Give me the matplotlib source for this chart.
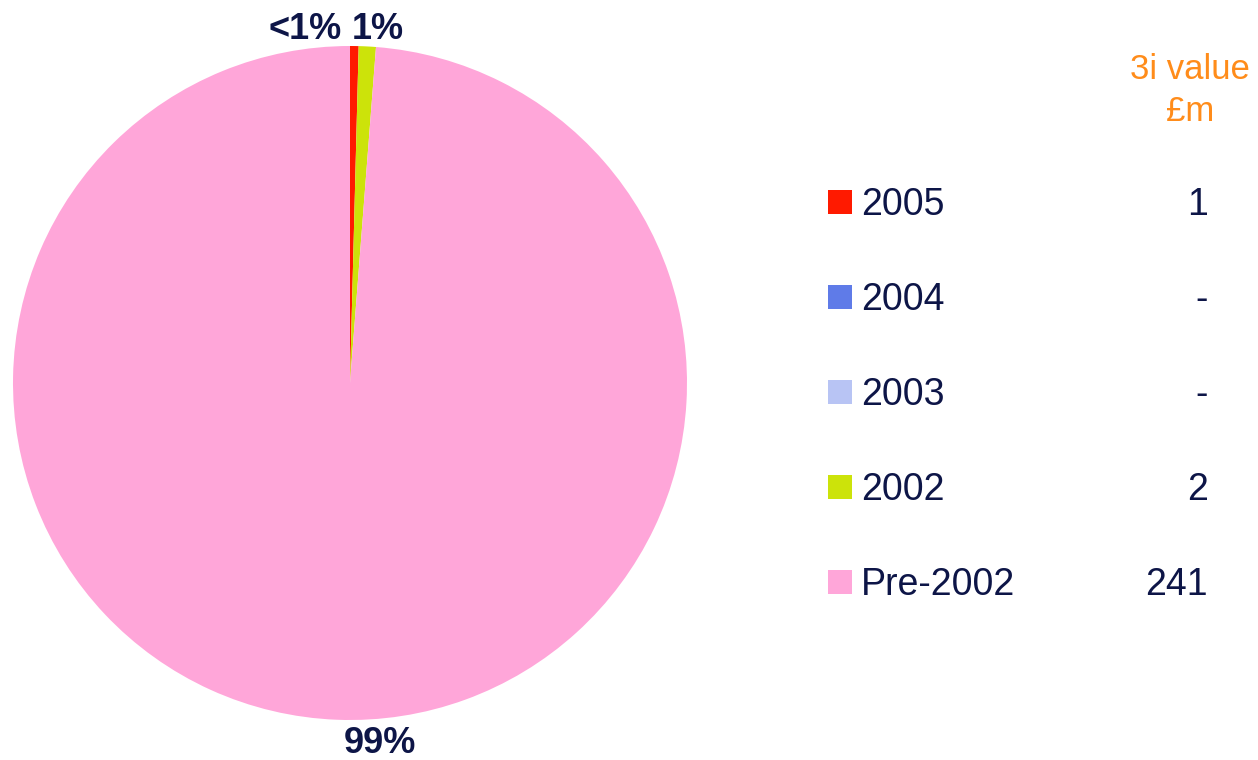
import matplotlib
matplotlib.use("Agg")
import matplotlib.pyplot as plt
from matplotlib.patches import Rectangle

categories = ["2005", "2004", "2003", "2002", "Pre-2002"]
values = [1, 0, 0, 2, 241]
value_labels = ["1", "-", "-", "2", "241"]
pct_labels = ["<1%", "", "", "1%", "99%"]
colors = ["#FF1A00", "#5F7BE8", "#B8C4F4", "#CCE30A", "#FFA6D9"]
header_lines = ["3i value", "£m"]

NAVY = "#0D1547"
ORANGE = "#FF8C1A"
W, H = 1258, 760
plt.rcParams['font.family'] = ['Liberation Sans', 'DejaVu Sans']

fig = plt.figure(figsize=(W / 100, H / 100), dpi=100)
cx, cy, r = 350, 383, 337
ax = fig.add_axes([(cx - r) / W, (H - cy - r) / H, 2 * r / W, 2 * r / H])
ax.pie(values, colors=colors, startangle=90, counterclock=False, radius=1,
       wedgeprops=dict(linewidth=0))
ax.set_xlim(-1, 1)
ax.set_ylim(-1, 1)
ax.set_aspect('equal')
ax.axis('off')

def px(x, y):
    return x / W, 1 - y / H

# percentage labels (pixel anchor at baseline, alignment)
label_pos = {0: (342, 39, 'right'), 3: (352, 39, 'left'), 4: (380, 753, 'center')}
for i, (x, y, ha) in label_pos.items():
    fig.text(*px(x, y), pct_labels[i], ha=ha, va='baseline', fontsize=26,
             fontweight='bold', color=NAVY)

# header
for j, line in enumerate(header_lines):
    fig.text(*px(1190, 79 + j * 42), line, ha='center', va='baseline',
             fontsize=25, color=ORANGE)

# legend
row0, step = 202, 95
for i, (cat, col, vl) in enumerate(zip(categories, colors, value_labels)):
    y = row0 + i * step
    fig.patches.append(Rectangle(px(828, y + 12), 24 / W, 24 / H,
                                 transform=fig.transFigure, facecolor=col,
                                 edgecolor='none'))
    fig.text(*px(861, y + 13), cat, ha='left', va='baseline', fontsize=27, color=NAVY)
    fig.text(*px(1208, y + 13), vl, ha='right', va='baseline', fontsize=27, color=NAVY)

fig.savefig("out.png", dpi=100, facecolor='white')
